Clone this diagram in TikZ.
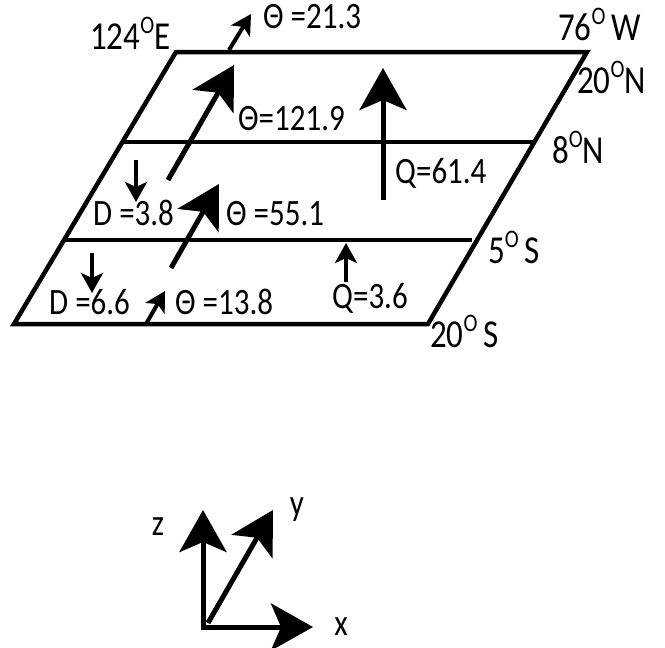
\documentclass[tikz,border=0pt]{standalone}
\usepackage{fontspec}
\setmainfont{Carlito}
\usetikzlibrary{arrows.meta}
\newcommand{\dgo}{\raisebox{13pt}{\fontsize{21}{21}\selectfont O}}
\newcommand{\tl}[1]{\scalebox{1}[1.2]{#1}}
\begin{document}
\begin{tikzpicture}[x=1pt,y=-1pt,
  lbl/.style={anchor=base west, inner sep=0pt, font=\fontsize{31}{33}\selectfont},
  geo/.style={anchor=base west, inner sep=0pt, font=\fontsize{33}{35}\selectfont},
  frame/.style={line width=4.5pt, line join=miter},
  bigarrow/.style={line width=5pt, -{Stealth[length=42pt,width=47pt,inset=10pt]}},
  smallarrow/.style={line width=4pt, -{Stealth[length=20pt,width=22pt,inset=5pt]}},
  axisarrow/.style={line width=5pt, line cap=rect, -{Stealth[length=42pt,width=47pt,inset=10pt]}}]
\useasboundingbox (0,0) rectangle (665,648);
% frame
\coordinate (A) at (176,52);
\coordinate (B) at (587,52);
\coordinate (C) at (428,324);
\coordinate (D) at (14,324);
\draw[frame] (A) -- (B) -- (C) -- (D) -- cycle;
\coordinate (m1l) at (123,142);
\coordinate (m1r) at (534,142);
\coordinate (m2l) at (64,240);
\coordinate (m2r) at (472,240);
\draw[frame] (m1l) -- (m1r);
\draw[frame] (m2l) -- (m2r);
% arrows
\coordinate (t1s) at (229,50);   \coordinate (t1e) at (251,14);
\coordinate (t2s) at (168,180);  \coordinate (t2e) at (234,65);
\coordinate (t3s) at (171,268);  \coordinate (t3e) at (219,184);
\coordinate (t4s) at (146,324);  \coordinate (t4e) at (165,291);
\coordinate (d1s) at (136,160);  \coordinate (d1e) at (136,202);
\coordinate (d2s) at (92,253);   \coordinate (d2e) at (92,293);
\coordinate (q1s) at (383,200);  \coordinate (q1e) at (383,68);
\coordinate (q2s) at (346,282);  \coordinate (q2e) at (346,243);
\draw[smallarrow] (t1s) -- (t1e);
\draw[bigarrow] (t2s) -- (t2e);
\draw[bigarrow] (t3s) -- (t3e);
\draw[smallarrow] (t4s) -- (t4e);
\draw[smallarrow] (d1s) -- (d1e);
\draw[smallarrow] (d2s) -- (d2e);
\draw[bigarrow] (q1s) -- (q1e);
\draw[smallarrow] (q2s) -- (q2e);
% labels
\node[geo] (l124) at (90,49) {\tl{124\dgo E}};
\node[geo] (l76) at (558,40) {\tl{76\dgo\,W}};
\node[geo] (l20n) at (577,93) {\tl{20\dgo N}};
\node[geo] (l8n) at (552,163) {\tl{8\dgo N}};
\node[geo] (l5s) at (488,263) {\tl{5\dgo\,S}};
\node[geo] (l20s) at (430,347) {\tl{20\dgo\,S}};
\node[lbl] (th1) at (263,28) {\tl{Θ =21.3}};
\node[lbl] (th2) at (238,130) {\tl{Θ=121.9}};
\node[lbl] (th3) at (226,225) {\tl{Θ =55.1}};
\node[lbl] (th4) at (175,314) {\tl{Θ =13.8}};
\node[lbl] (dd1) at (93,225) {\tl{D =3.8}};
\node[lbl] (dd2) at (49,314) {\tl{D =6.6}};
\node[lbl] (qq1) at (395,183) {\tl{Q=61.4}};
\node[lbl] (qq2) at (332,308) {\tl{Q=3.6}};
% axes
\coordinate (O) at (203,627);
\coordinate (zt) at (203,510);
\coordinate (xt) at (313,627);
\coordinate (ys) at (208,623);
\coordinate (yt) at (273,510);
\draw[axisarrow] (O) -- (zt);
\draw[axisarrow] (O) -- (xt);
\draw[bigarrow] (ys) -- (yt);
\node[lbl, anchor=center] (zl) at (158,527) {\tl{z}};
\node[lbl, anchor=center] (yl) at (297,510) {\tl{y}};
\node[lbl, anchor=center] (xl) at (341,627) {\tl{x}};
\end{tikzpicture}
\end{document}
